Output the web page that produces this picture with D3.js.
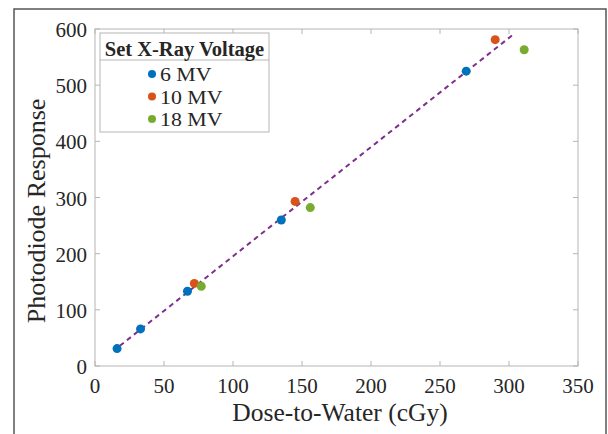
<!DOCTYPE html>
<html>
<head>
<meta charset="utf-8">
<script src="https://cdn.jsdelivr.net/npm/d3@7"></script>
<style>
  body { margin: 0; background: #fff; }
  svg text { fill: #262626; }
</style>
</head>
<body>
<svg width="608" height="434" style="font-family: 'Liberation Serif', 'Times New Roman', serif;"></svg>
<script>
// data
var series = ["6 MV", "10 MV", "18 MV"];
var colors = ["#0072BD", "#D95319", "#77AC30"];
var doseMV6 = [16, 33, 67, 135, 269];
var respMV6 = [31, 66, 133, 260, 525];
var doseMV10 = [72, 145, 290];
var respMV10 = [147, 293, 581];
var doseMV18 = [77, 156, 311];
var respMV18 = [142, 282, 563];
var fitDose = [18, 304];
var fitResp = [36, 592];
var xTicks = [0, 50, 100, 150, 200, 250, 300, 350];
var yTicks = [0, 100, 200, 300, 400, 500, 600];

var svg = d3.select("svg");
var m = {left: 95, right: 578, top: 29, bottom: 366};

// outer frame (bottom is cut off)
svg.append("path")
    .attr("d", "M14,434 V9 H606 V434")
    .attr("fill", "none")
    .attr("stroke", "#555")
    .attr("stroke-width", 1.5);

var x = d3.scaleLinear().domain([0, 350]).range([m.left, m.right]);
var y = d3.scaleLinear().domain([0, 600]).range([m.bottom, m.top]);

var axCol = "#b5b5b5";

// box
svg.append("rect")
    .attr("x", m.left).attr("y", m.top)
    .attr("width", m.right - m.left).attr("height", m.bottom - m.top)
    .attr("fill", "none").attr("stroke", axCol).attr("stroke-width", 1);

// ticks (inward, all four sides)
var tk = svg.append("g").attr("stroke", axCol);
xTicks.forEach(function(t) {
  tk.append("line").attr("x1", x(t)).attr("x2", x(t)).attr("y1", m.bottom).attr("y2", m.bottom - 5);
  tk.append("line").attr("x1", x(t)).attr("x2", x(t)).attr("y1", m.top).attr("y2", m.top + 5);
});
yTicks.forEach(function(t) {
  tk.append("line").attr("y1", y(t)).attr("y2", y(t)).attr("x1", m.left).attr("x2", m.left + 5);
  tk.append("line").attr("y1", y(t)).attr("y2", y(t)).attr("x1", m.right).attr("x2", m.right - 5);
});

svg.append("g").selectAll("text").data(xTicks).enter().append("text")
    .attr("x", function(d) { return x(d); })
    .attr("y", 393)
    .attr("text-anchor", "middle")
    .attr("font-size", 21)
    .text(function(d) { return d; });

svg.append("g").selectAll("text").data(yTicks).enter().append("text")
    .attr("x", 87)
    .attr("y", function(d) { return y(d) + 8; })
    .attr("text-anchor", "end")
    .attr("font-size", 21)
    .text(function(d) { return d; });

svg.append("text")
    .attr("x", 340).attr("y", 421)
    .attr("text-anchor", "middle").attr("font-size", 25.5)
    .text("Dose-to-Water (cGy)");

svg.append("text")
    .attr("transform", "translate(45,211) rotate(-90)")
    .attr("text-anchor", "middle").attr("font-size", 26)
    .text("Photodiode Response");

// fit line
var line = d3.line().x(function(d) { return x(d[0]); }).y(function(d) { return y(d[1]); });
svg.append("path")
    .datum(d3.zip(fitDose, fitResp))
    .attr("d", line)
    .attr("fill", "none")
    .attr("stroke", "#7E2F8E")
    .attr("stroke-width", 2)
    .attr("stroke-dasharray", "5,4");

var sets = [d3.zip(doseMV6, respMV6), d3.zip(doseMV10, respMV10), d3.zip(doseMV18, respMV18)];
sets.forEach(function(pts, i) {
  svg.append("g").selectAll("circle").data(pts).enter().append("circle")
      .attr("cx", function(d) { return x(d[0]); })
      .attr("cy", function(d) { return y(d[1]); })
      .attr("r", 4.5)
      .attr("fill", colors[i]);
});

// legend
var lg = svg.append("g");
lg.append("rect").attr("x", 100).attr("y", 33).attr("width", 169).attr("height", 99)
    .attr("fill", "#fff").attr("stroke", axCol);
lg.append("line").attr("x1", 100).attr("x2", 269).attr("y1", 60).attr("y2", 60).attr("stroke", axCol);
lg.append("text").attr("x", 184.5).attr("y", 56).attr("text-anchor", "middle")
    .attr("font-size", 20.5).attr("font-weight", "bold").text("Set X-Ray Voltage");
series.forEach(function(s, i) {
  var yy = 74 + i * 22.5;
  lg.append("circle").attr("cx", 152).attr("cy", yy).attr("r", 4).attr("fill", colors[i]);
  // legend text in the figure is a bit wider than tall
  lg.append("text")
      .attr("transform", "translate(160," + (yy + 7) + ") scale(1.12,1)")
      .attr("font-size", 19.5).text(s);
});
</script>
</body>
</html>
